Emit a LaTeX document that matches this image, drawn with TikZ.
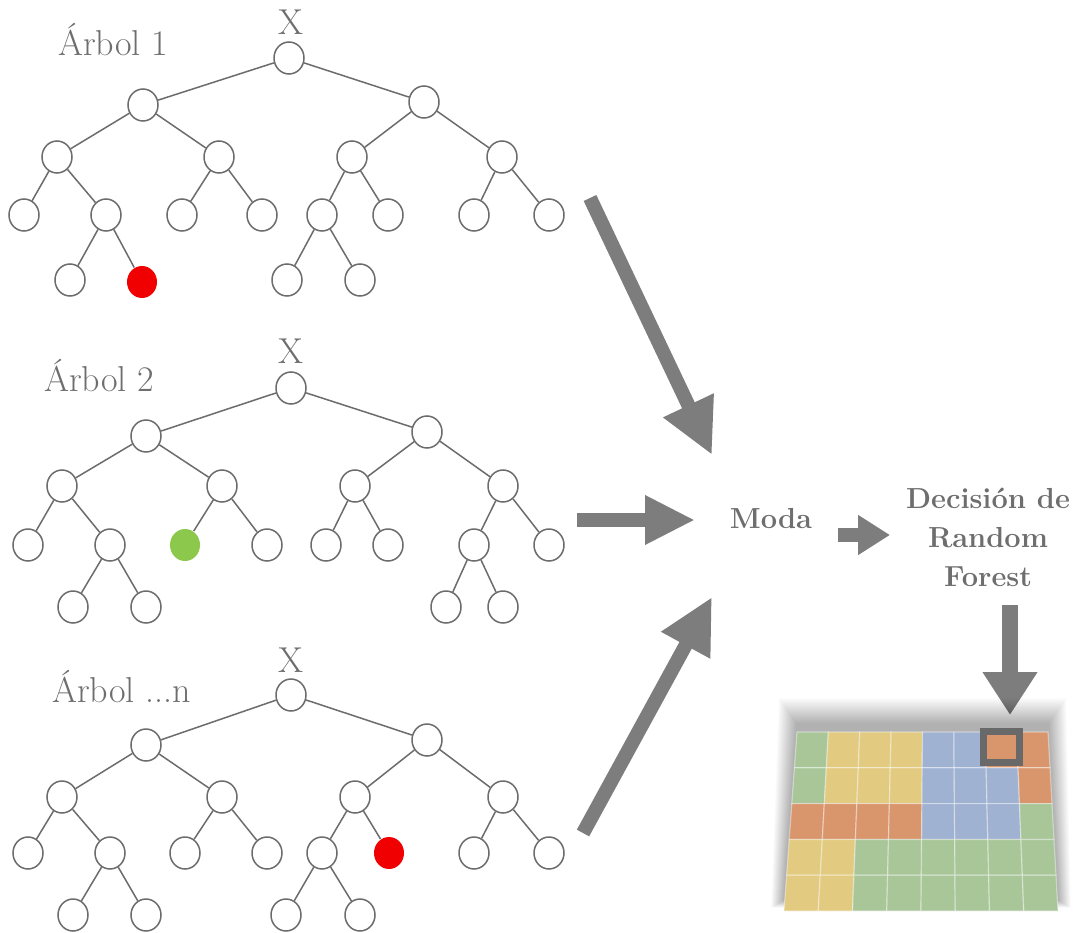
\documentclass[tikz,border=0pt]{standalone}
\usetikzlibrary{arrows.meta,shapes.geometric}
\definecolor{ink}{RGB}{110,110,110}
\definecolor{edgec}{RGB}{108,108,108}
\definecolor{arr}{RGB}{125,125,125}
\definecolor{boxc}{RGB}{105,105,105}
\definecolor{cellg}{RGB}{168,198,152}
\definecolor{celly}{RGB}{226,202,128}
\definecolor{cellb}{RGB}{160,178,210}
\definecolor{cello}{RGB}{217,150,108}
\definecolor{leafred}{RGB}{240,0,0}
\definecolor{leafgreen}{RGB}{140,200,75}
\newcommand\gridpt[3]{%
  \pgfmathsetmacro\gridV{#2}%
  \pgfmathsetmacro\gridU{#1}%
  \pgfmathsetmacro\gridL{797-13*\gridV/5}%
  \pgfmathsetmacro\gridR{1048+10*\gridV/5}%
  \pgfmathsetmacro\gridX{\gridL+(\gridR-\gridL)*\gridU/8}%
  \pgfmathsetmacro\gridY{732+179*\gridV/5}%
  \coordinate (#3) at (\gridX,\gridY);}
\begin{document}
\begin{tikzpicture}[x=1pt,y=-1pt,
  tn/.style={ellipse, draw=edgec, line width=1.5pt, fill=white, minimum width=30pt, minimum height=32pt, inner sep=0pt},
  redleaf/.style={tn, draw=none, fill=leafred},
  greenleaf/.style={tn, draw=none, fill=leafgreen},
  br/.style={draw=edgec, line width=1.5pt},
  lbl/.style={text=ink, font=\fontsize{36}{42}\selectfont, inner sep=0pt},
  blbl/.style={text=ink, font=\fontsize{29}{39}\selectfont\bfseries, inner sep=0pt, align=center},
  bigarrow/.style={draw=arr, line width=14pt, -{Triangle[length=50pt,width=50pt]}},
]
\useasboundingbox[fill=white] (0,0) rectangle (1075,933);

% ---------------- Tree 1 ----------------
\node[lbl, anchor=base] (x1) at (291,35) {X};
\node[lbl, anchor=base west] (n1) at (58,56) {Árbol 1};
\node[tn] (t1r) at (289,58) {};
\node[tn] (t1L) at (143,105) {};
\node[tn] (t1R) at (424,102) {};
\node[tn] (t1LL) at (57,157) {};
\node[tn] (t1LR) at (219,157) {};
\node[tn] (t1RL) at (352,157) {};
\node[tn] (t1RR) at (502,157) {};
\node[tn] (t1LLL) at (24,215) {};
\node[tn] (t1LLR) at (106,215) {};
\node[tn] (t1LRL) at (182,215) {};
\node[tn] (t1LRR) at (262,215) {};
\node[tn] (t1RLL) at (322,215) {};
\node[tn] (t1RLR) at (388,215) {};
\node[tn] (t1RRL) at (474,215) {};
\node[tn] (t1RRR) at (549,215) {};
\node[tn] (t1a) at (70,280) {};
\node[redleaf] (t1b) at (142,282) {};
\node[tn] (t1c) at (287,280) {};
\node[tn] (t1d) at (360,280) {};
\draw[br] (t1r)--(t1L) (t1r)--(t1R) (t1L)--(t1LL) (t1L)--(t1LR) (t1R)--(t1RL) (t1R)--(t1RR)
  (t1LL)--(t1LLL) (t1LL)--(t1LLR) (t1LR)--(t1LRL) (t1LR)--(t1LRR)
  (t1RL)--(t1RLL) (t1RL)--(t1RLR) (t1RR)--(t1RRL) (t1RR)--(t1RRR)
  (t1LLR)--(t1a) (t1LLR)--(t1b) (t1RLL)--(t1c) (t1RLL)--(t1d);

% ---------------- Tree 2 ----------------
\node[lbl, anchor=base] (x2) at (291,363) {X};
\node[lbl, anchor=base west] (n2) at (44,391) {Árbol 2};
\node[tn] (t2r) at (291,388) {};
\node[tn] (t2L) at (146,436) {};
\node[tn] (t2R) at (427,432) {};
\node[tn] (t2LL) at (62,486) {};
\node[tn] (t2LR) at (222,486) {};
\node[tn] (t2RL) at (355,486) {};
\node[tn] (t2RR) at (503,486) {};
\node[tn] (t2LLL) at (28,545) {};
\node[tn] (t2LLR) at (110,545) {};
\node[greenleaf] (t2LRL) at (185,545) {};
\node[tn] (t2LRR) at (267,545) {};
\node[tn] (t2RLL) at (326,545) {};
\node[tn] (t2RLR) at (388,545) {};
\node[tn] (t2RRL) at (474,545) {};
\node[tn] (t2RRR) at (549,545) {};
\node[tn] (t2a) at (73,607) {};
\node[tn] (t2b) at (146,607) {};
\node[tn] (t2c) at (446,607) {};
\node[tn] (t2d) at (503,607) {};
\draw[br] (t2r)--(t2L) (t2r)--(t2R) (t2L)--(t2LL) (t2L)--(t2LR) (t2R)--(t2RL) (t2R)--(t2RR)
  (t2LL)--(t2LLL) (t2LL)--(t2LLR) (t2LR)--(t2LRL) (t2LR)--(t2LRR)
  (t2RL)--(t2RLL) (t2RL)--(t2RLR) (t2RR)--(t2RRL) (t2RR)--(t2RRR)
  (t2LLR)--(t2a) (t2LLR)--(t2b) (t2RRL)--(t2c) (t2RRL)--(t2d);

% ---------------- Tree 3 ----------------
\node[lbl, anchor=base] (x3) at (291,672) {X};
\node[lbl, anchor=base west] (n3) at (52,702) {Árbol ...n};
\node[tn] (t3r) at (291,695) {};
\node[tn] (t3L) at (146,745) {};
\node[tn] (t3R) at (427,740) {};
\node[tn] (t3LL) at (62,797) {};
\node[tn] (t3LR) at (222,797) {};
\node[tn] (t3RL) at (355,797) {};
\node[tn] (t3RR) at (503,797) {};
\node[tn] (t3LLL) at (28,853) {};
\node[tn] (t3LLR) at (110,853) {};
\node[tn] (t3LRL) at (185,853) {};
\node[tn] (t3LRR) at (267,853) {};
\node[tn] (t3RLL) at (322,853) {};
\node[redleaf] (t3RLR) at (389,853) {};
\node[tn] (t3RRL) at (474,853) {};
\node[tn] (t3RRR) at (549,853) {};
\node[tn] (t3a) at (73,915) {};
\node[tn] (t3b) at (146,915) {};
\node[tn] (t3c) at (286,915) {};
\node[tn] (t3d) at (360,915) {};
\draw[br] (t3r)--(t3L) (t3r)--(t3R) (t3L)--(t3LL) (t3L)--(t3LR) (t3R)--(t3RL) (t3R)--(t3RR)
  (t3LL)--(t3LLL) (t3LL)--(t3LLR) (t3LR)--(t3LRL) (t3LR)--(t3LRR)
  (t3RL)--(t3RLL) (t3RL)--(t3RLR) (t3RR)--(t3RRL) (t3RR)--(t3RRR)
  (t3LLR)--(t3a) (t3LLR)--(t3b) (t3RLL)--(t3c) (t3RLL)--(t3d);

% ---------------- Right side ----------------
\node[blbl] (moda) at (771,519) {Moda};
\node[blbl] (dec) at (988,537) {Decisión de\\Random\\Forest};

\coordinate (a1s) at (590,198); \coordinate (a1e) at (712,455);
\coordinate (a2s) at (577,520); \coordinate (a2e) at (695,520);
\coordinate (a3s) at (583,833); \coordinate (a3e) at (712,597);
\coordinate (a4s) at (838,535); \coordinate (a4e) at (890,535);
\coordinate (a5s) at (1010,605); \coordinate (a5e) at (1010,715);
\draw[bigarrow, -{Triangle[length=55pt,width=52pt]}] (a1s) -- (a1e);
\draw[bigarrow, -{Triangle[length=50pt,width=46pt]}] (a2s) -- (a2e);
\draw[bigarrow, -{Triangle[length=55pt,width=52pt]}] (a3s) -- (a3e);
\draw[bigarrow, -{Triangle[length=32pt,width=38pt]}] (a4s) -- (a4e);
\draw[bigarrow, line width=16pt, -{Triangle[length=43pt,width=52pt]}] (a5s) -- (a5e);

% grid shadow (soft, mostly above)
\foreach \e in {1,2,...,26}{
  \fill[black, opacity=0.011] (797-0.7*\e,724-\e) -- (1048+0.7*\e,724-\e) -- (1058+0.5*\e,900+0.3*\e) -- (784-0.5*\e,900+0.3*\e) -- cycle;
}
% grid cells
\foreach \c [count=\i from 0] in {g,y,y,y,b,b,o,o,g,y,y,y,b,b,b,o,o,o,o,o,b,b,b,g,y,y,g,g,g,g,g,g,y,y,g,g,g,g,g,g}{
  \pgfmathtruncatemacro\rr{floor(\i/8)}
  \pgfmathtruncatemacro\cc{\i-8*\rr}
  \gridpt{\cc}{\rr}{gA}
  \gridpt{\cc+1}{\rr}{gB}
  \gridpt{\cc+1}{\rr+1}{gC}
  \gridpt{\cc}{\rr+1}{gD}
  \filldraw[fill=cell\c, draw=white, draw opacity=0.4, line width=1.2pt] (gA) -- (gB) -- (gC) -- (gD) -- cycle;
}
\draw[boxc, line width=7pt] (983.5,731.5) rectangle (1019.5,762.5);
\end{tikzpicture}
\end{document}
